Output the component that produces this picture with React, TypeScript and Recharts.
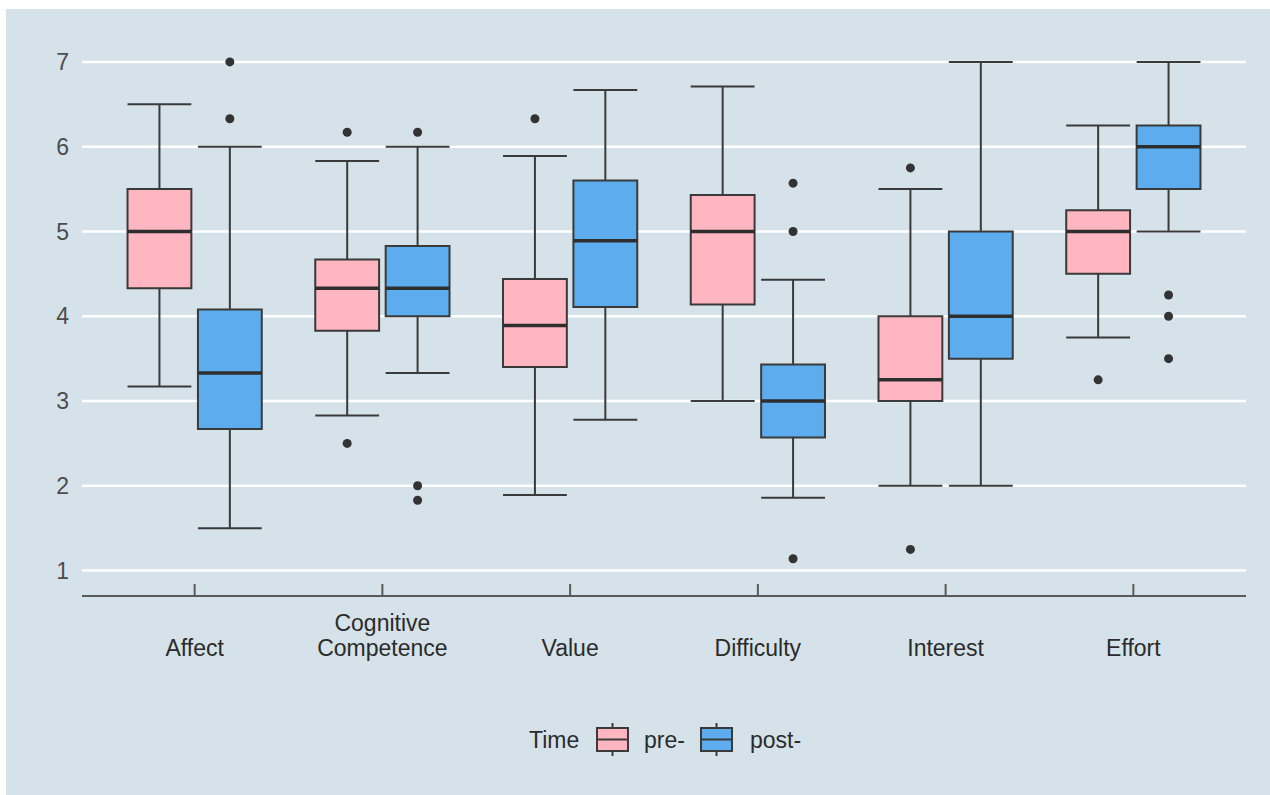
import React from 'react';
import { ComposedChart, XAxis, YAxis, CartesianGrid, ReferenceArea, ReferenceLine, Scatter } from 'recharts';

// categories on the x axis ("\n" splits a label over two lines)
const categories = ['Affect', 'Cognitive\nCompetence', 'Value', 'Difficulty', 'Interest', 'Effort'];
const yTicks = [1, 2, 3, 4, 5, 6, 7];

// pre- summary stats, one value per category
const preLower = [3.17, 2.83, 1.89, 3.0, 2.0, 3.75];
const preQ1 = [4.33, 3.83, 3.4, 4.14, 3.0, 4.5];
const preMedian = [5.0, 4.33, 3.89, 5.0, 3.25, 5.0];
const preQ3 = [5.5, 4.67, 4.44, 5.43, 4.0, 5.25];
const preUpper = [6.5, 5.83, 5.89, 6.71, 5.5, 6.25];
const preOutliers = [[], [6.17, 2.5], [6.33], [], [5.75, 1.25], [3.25]];

// post- summary stats
const postLower = [1.5, 3.33, 2.78, 1.86, 2.0, 5.0];
const postQ1 = [2.67, 4.0, 4.11, 2.57, 3.5, 5.5];
const postMedian = [3.33, 4.33, 4.89, 3.0, 4.0, 6.0];
const postQ3 = [4.08, 4.83, 5.6, 3.43, 5.0, 6.25];
const postUpper = [6.0, 6.0, 6.67, 4.43, 7.0, 7.0];
const postOutliers = [[7.0, 6.33], [6.17, 2.0, 1.83], [], [5.57, 5.0, 1.14], [], [4.25, 4.0, 3.5]];

const BG = '#d5e2e9';
const LINE = '#3a3a3a';
const AXIS = '#5a5a5a';
const TEXT = '#2b2b2b';
const FS = 23;
const DODGE = 0.1875;
const HALF = 0.17;
const Y_MIN = 0.7;
const Y_MAX = 7.3;

const groups = [
  { name: 'pre-', fill: '#FFB6C1', offset: -DODGE, lower: preLower, q1: preQ1, median: preMedian, q3: preQ3, upper: preUpper, outliers: preOutliers },
  { name: 'post-', fill: '#5CACEE', offset: DODGE, lower: postLower, q1: postQ1, median: postMedian, q3: postQ3, upper: postUpper, outliers: postOutliers },
];

// gridlines only at the labelled ticks (no line at the domain edge)
const gridRows = (args: any) => {
  const ya = args?.yAxis;
  if (ya && typeof ya.scale === 'function') return yTicks.map(t => ya.scale(t));
  const o = args?.offset || { top: 27.5, height: 559.5 };
  return yTicks.map(t => o.top + ((Y_MAX - t) / (Y_MAX - Y_MIN)) * o.height);
};

const XTick = (props: any) => {
  const { x, y, payload } = props;
  const lines = String(categories[payload.value - 1] || '').split('\n');
  return (
    <g>
      <line x1={x} x2={x} y1={y - 12} y2={y} stroke={AXIS} strokeWidth={2} />
      {lines.map((ln, i) => (
        <text key={i} x={x} y={y + 60 - (lines.length - 1 - i) * 25} textAnchor="middle" fill={TEXT} fontSize={FS}>
          {ln}
        </text>
      ))}
    </g>
  );
};

const LegendKey = ({ x, fill }: { x: number; fill: string }) => (
  <g>
    <line x1={x + 15.5} x2={x + 15.5} y1={8} y2={41} stroke={LINE} strokeWidth={2} />
    <rect x={x} y={13} width={31} height={23} fill={fill} stroke={LINE} strokeWidth={2} />
    <line x1={x} x2={x + 31} y1={24.5} y2={24.5} stroke={LINE} strokeWidth={2} />
  </g>
);

export default function App() {
  const marks: React.ReactNode[] = [];
  groups.forEach((g, gi) => {
    categories.forEach((_, i) => {
      const cx = i + 1 + g.offset;
      const l = cx - HALF;
      const r = cx + HALF;
      const k = `${gi}-${i}`;
      marks.push(<ReferenceLine key={`wu${k}`} segment={[{ x: cx, y: g.q3[i] }, { x: cx, y: g.upper[i] }]} stroke={LINE} strokeWidth={2} />);
      marks.push(<ReferenceLine key={`wl${k}`} segment={[{ x: cx, y: g.lower[i] }, { x: cx, y: g.q1[i] }]} stroke={LINE} strokeWidth={2} />);
      marks.push(<ReferenceLine key={`cu${k}`} segment={[{ x: l, y: g.upper[i] }, { x: r, y: g.upper[i] }]} stroke={LINE} strokeWidth={2} />);
      marks.push(<ReferenceLine key={`cl${k}`} segment={[{ x: l, y: g.lower[i] }, { x: r, y: g.lower[i] }]} stroke={LINE} strokeWidth={2} />);
      marks.push(
        <ReferenceArea key={`b${k}`} x1={l} x2={r} y1={g.q1[i]} y2={g.q3[i]} fill={g.fill} fillOpacity={1} stroke={LINE} strokeWidth={2} />
      );
      marks.push(<ReferenceLine key={`m${k}`} segment={[{ x: l, y: g.median[i] }, { x: r, y: g.median[i] }]} stroke="#2e2e2e" strokeWidth={3.5} />);
    });
  });

  const outlierData = groups.map(g =>
    g.outliers.flatMap((vals, i) => vals.map(v => ({ x: i + 1 + g.offset, y: v })))
  );

  return (
    <div style={{ position: 'absolute', left: 6, top: 9, width: 1264, height: 786, background: BG, fontFamily: "'Liberation Sans', Arial, sans-serif" }}>
      <ComposedChart width={1264} height={786} margin={{ top: 27.5, right: 24, bottom: 0, left: 0 }}>
        <CartesianGrid
          horizontal
          vertical={false}
          stroke="#ffffff"
          strokeWidth={2.5}
          horizontalCoordinatesGenerator={gridRows}
        />
        <XAxis
          type="number"
          dataKey="x"
          domain={[0.4, 6.6]}
          ticks={[1, 2, 3, 4, 5, 6]}
          interval={0}
          allowDataOverflow
          height={199}
          axisLine={{ stroke: AXIS, strokeWidth: 2 }}
          tickLine={false}
          tickSize={0}
          tickMargin={0}
          tick={(p: any) => <XTick {...p} />}
        />
        <YAxis
          type="number"
          domain={[Y_MIN, Y_MAX]}
          ticks={yTicks}
          interval={0}
          allowDataOverflow
          width={76}
          axisLine={false}
          tickLine={false}
          tickSize={0}
          tickMargin={13}
          tick={{ fill: '#4d4d4d', fontSize: FS }}
        />
        {marks}
        {outlierData.map((d, gi) => (
          <Scatter
            key={gi}
            data={d}
            dataKey="y"
            isAnimationActive={false}
            shape={(p: any) => <circle cx={p.cx} cy={p.cy} r={4.5} fill="#333333" />}
          />
        ))}
      </ComposedChart>
      <svg style={{ position: 'absolute', left: 514, top: 706 }} width={300} height={50}>
        <text x={9} y={33} fontSize={FS} fill={TEXT}>Time</text>
        <LegendKey x={77} fill={groups[0].fill} />
        <text x={124} y={33} fontSize={FS} fill={TEXT}>{groups[0].name}</text>
        <LegendKey x={181} fill={groups[1].fill} />
        <text x={230} y={33} fontSize={FS} fill={TEXT}>{groups[1].name}</text>
      </svg>
    </div>
  );
}
